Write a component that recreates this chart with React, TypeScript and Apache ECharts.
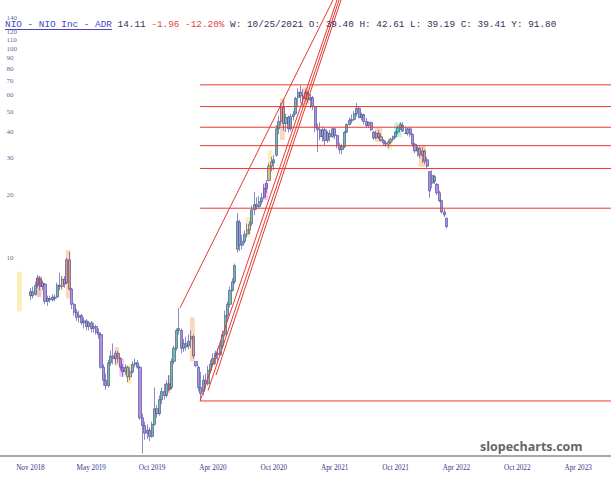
import React, { useEffect, useRef } from 'react';
import * as echarts from 'echarts';

// ---- axis / categories ----
const START_UTC = Date.UTC(2018, 7, 20); // first weekly slot on the x axis
const WEEK_COUNT = 251;
const FIRST_CANDLE = 12; // slot of the first candle (week of 2018-11-12)
const categories: string[] = Array.from({ length: WEEK_COUNT }, (_, i) =>
  new Date(START_UTC + i * 7 * 86400000).toISOString().slice(0, 10)
);

const tickLabels = ['Nov 2018', 'May 2019', 'Oct 2019', 'Apr 2020', 'Oct 2020', 'Apr 2021', 'Oct 2021', 'Apr 2022', 'Oct 2022', 'Apr 2023'];
const TICK_FIRST = 12;
const TICK_STEP = 25;

const yTickLabels = [10, 20, 30, 40, 50, 60, 70, 80, 90, 100, 110, 120, 140];
const Y_MIN = 1.129;
const Y_MAX = 171.4;

// ---- weekly candles: [open, close, low, high] from slot FIRST_CANDLE ----
const candles: number[][] = [
  [6.6, 6.9, 6.3, 7.2], [6.9, 6.6, 6.4, 7.3], [6.7, 7.4, 6.6, 7.7], [7.4, 8.0, 7.2, 8.3],
  [8.0, 7.3, 7.0, 8.2], [7.3, 7.6, 7.0, 7.8], [7.5, 6.2, 6.0, 7.6], [6.2, 6.4, 5.9, 6.6],
  [6.4, 6.3, 6.1, 6.6], [6.3, 6.5, 6.2, 6.7], [6.5, 6.4, 6.2, 6.7], [6.5, 7.4, 6.4, 7.6],
  [7.4, 7.3, 7.0, 8.5], [7.3, 7.9, 7.1, 8.2], [7.9, 7.5, 7.2, 8.2], [7.6, 9.8, 7.5, 10.0],
  [9.8, 7.1, 7.0, 10.7], [7.1, 6.0, 5.7, 7.2], [6.0, 5.5, 5.3, 6.1], [5.5, 5.2, 5.0, 5.7],
  [5.2, 5.3, 4.9, 5.6], [5.3, 4.9, 4.8, 5.4], [4.9, 5.0, 4.6, 5.2], [5.0, 4.7, 4.5, 5.1],
  [4.7, 4.9, 4.5, 5.0], [4.9, 4.6, 4.4, 5.0], [4.6, 4.7, 4.4, 4.9], [4.7, 4.4, 4.3, 4.8],
  [4.4, 4.3, 4.1, 4.6], [4.3, 3.0, 2.95, 4.4], [3.0, 2.6, 2.45, 3.1], [2.6, 2.45, 2.34, 2.8],
  [2.45, 3.15, 2.4, 3.25], [3.15, 3.4, 3.05, 3.6], [3.4, 3.3, 3.1, 3.9], [3.3, 3.5, 3.1, 3.6],
  [3.5, 3.3, 3.15, 3.6], [3.3, 3.0, 2.9, 3.35], [3.0, 2.85, 2.7, 3.1], [2.85, 3.0, 2.75, 3.1],
  [3.0, 2.7, 2.55, 3.05], [2.7, 2.85, 2.6, 3.0], [2.85, 3.1, 2.8, 3.2], [3.1, 3.15, 3.0, 3.3],
  [3.15, 3.0, 2.95, 3.25], [3.0, 1.72, 1.68, 3.05], [1.72, 1.58, 1.16, 1.8], [1.58, 1.45, 1.35, 1.65],
  [1.45, 1.5, 1.36, 1.6], [1.5, 1.4, 1.33, 1.55], [1.4, 1.6, 1.38, 1.65], [1.6, 1.9, 1.58, 2.4],
  [1.9, 1.8, 1.72, 1.98], [1.8, 2.1, 1.76, 2.2], [2.1, 2.3, 2.0, 2.4], [2.3, 2.2, 2.1, 2.5],
  [2.2, 2.5, 2.15, 2.6], [2.5, 2.35, 2.3, 2.75], [2.4, 3.2, 2.35, 3.3], [3.2, 3.7, 3.1, 3.8],
  [3.7, 4.5, 3.6, 4.6], [4.5, 4.6, 4.3, 5.77], [4.5, 3.7, 3.5, 4.6], [3.7, 3.9, 3.55, 4.1],
  [3.9, 3.75, 3.6, 4.2], [3.8, 4.0, 3.65, 4.3], [4.1, 4.2, 3.7, 4.5], [4.2, 3.4, 3.3, 4.3],
  [3.2, 3.05, 3.0, 3.2], [3.0, 2.4, 2.3, 3.05], [2.4, 2.25, 2.07, 2.85], [2.3, 2.6, 2.2, 2.75],
  [2.6, 2.5, 2.35, 2.8], [2.5, 2.9, 2.45, 3.05], [2.9, 3.1, 2.8, 3.26], [3.1, 3.3, 3.0, 3.5],
  [3.3, 3.5, 3.1, 3.6], [3.5, 3.45, 3.2, 3.7], [3.45, 3.8, 3.4, 4.0], [3.8, 4.3, 3.7, 4.5],
  [4.3, 5.3, 4.2, 5.6], [5.3, 6.0, 5.0, 6.2], [6.0, 7.0, 5.8, 7.3], [7.0, 7.7, 6.9, 8.0],
  [7.7, 9.2, 7.5, 9.4], [11.0, 15.0, 10.6, 16.4], [14.8, 11.5, 10.8, 15.2], [11.5, 12.0, 11.0, 12.9],
  [12.0, 13.0, 11.7, 13.5], [13.0, 13.6, 12.5, 14.6], [13.6, 14.5, 13.0, 15.0], [14.6, 17.0, 14.2, 17.8],
  [17.0, 18.0, 16.0, 20.7], [18.0, 17.6, 17.0, 19.5], [17.6, 18.6, 17.2, 19.8], [18.6, 19.4, 18.0, 20.5],
  [19.5, 21.5, 19.2, 22.5], [21.5, 22.8, 20.5, 23.6], [23.5, 27.5, 23.2, 28.5], [27.5, 28.8, 26.0, 30.5],
  [28.5, 29.5, 26.3, 31.0], [31.0, 41.5, 30.5, 43.3], [41.5, 45.0, 39.0, 48.0], [45.0, 53.0, 43.0, 55.0],
  [52.5, 44.0, 40.5, 57.0], [44.0, 47.0, 40.0, 49.0], [47.0, 41.5, 39.8, 48.0], [41.5, 47.5, 40.5, 49.0],
  [47.5, 48.7, 45.5, 50.5], [49.0, 58.0, 48.5, 59.0], [58.5, 62.0, 53.5, 64.8], [62.0, 59.5, 55.0, 67.0],
  [59.5, 58.0, 53.5, 64.0], [58.0, 62.0, 56.5, 64.0], [62.0, 57.0, 55.5, 63.0], [57.0, 58.5, 52.0, 61.0],
  [58.5, 53.0, 51.0, 59.5], [53.0, 42.0, 40.0, 53.5], [42.0, 41.0, 32.1, 44.0], [41.0, 38.0, 36.5, 44.6],
  [38.0, 41.0, 36.0, 42.5], [41.0, 36.5, 34.6, 42.0], [36.5, 39.5, 35.5, 40.5], [39.5, 38.0, 36.0, 41.0],
  [38.0, 41.5, 37.5, 42.3], [41.5, 38.5, 37.0, 42.0], [38.5, 34.5, 33.5, 39.0], [34.5, 33.0, 31.5, 35.5],
  [33.0, 34.0, 31.3, 35.0], [34.0, 40.0, 33.5, 40.5], [40.0, 43.5, 39.5, 44.0], [43.5, 45.5, 43.0, 47.0],
  [45.5, 46.0, 44.0, 48.5], [46.0, 49.0, 45.0, 50.5], [49.0, 52.0, 47.5, 55.2], [52.0, 47.0, 46.5, 53.0],
  [47.0, 48.5, 45.5, 49.5], [48.5, 45.0, 43.5, 49.0], [45.0, 43.0, 42.0, 46.7], [43.0, 44.5, 42.0, 45.0],
  [44.5, 41.0, 40.5, 45.0], [40.0, 37.5, 36.7, 40.5], [37.5, 39.5, 37.0, 40.5], [39.5, 38.0, 37.0, 41.0],
  [38.0, 36.5, 36.0, 39.5], [36.5, 35.5, 34.5, 37.0], [35.5, 35.0, 34.0, 36.5], [35.0, 35.8, 33.5, 36.7],
  [35.8, 37.0, 35.0, 37.5], [37.0, 38.0, 36.0, 38.5], [38.0, 40.0, 37.5, 40.5], [40.0, 42.0, 39.0, 43.0],
  [42.0, 43.5, 41.0, 44.6], [43.0, 40.5, 40.0, 44.6], [39.4, 39.41, 39.19, 42.61], [39.4, 41.5, 38.5, 42.0],
  [41.5, 39.0, 38.0, 42.5], [39.0, 35.0, 34.0, 39.5], [35.0, 32.5, 31.7, 35.5], [32.5, 33.5, 30.5, 34.6],
  [33.5, 31.0, 30.0, 34.0], [31.0, 32.5, 28.5, 34.0], [32.5, 29.0, 28.1, 33.0], [29.5, 27.5, 27.0, 30.4],
  [25.9, 20.9, 19.4, 26.0], [22.8, 24.8, 21.5, 26.3], [24.5, 23.2, 22.6, 25.0], [22.5, 20.5, 20.0, 22.8],
  [20.5, 18.8, 18.5, 21.0], [18.8, 16.6, 16.3, 19.0], [16.6, 16.07, 15.7, 17.2], [15.5, 14.11, 13.9, 15.6],
];

// ---- pattern highlight boxes: [first slot, last slot, low, high, kind] ----
const boxes: [number, number, number, number, string][] = [
  [7, 8, 5.55, 8.6, 'yellow'],
  [15, 16, 6.5, 8.2, 'red'],
  [25, 25, 7.0, 8.2, 'yellow'],
  [27, 28, 6.4, 10.9, 'orange'],
  [47, 48, 3.05, 3.75, 'orange'],
  [49, 50, 2.7, 3.3, 'magenta'],
  [52, 53, 2.5, 3.1, 'yellow'],
  [69, 69, 2.26, 2.75, 'red'],
  [78, 79, 3.2, 5.2, 'orange'],
  [101, 102, 12.6, 15.7, 'yellow'],
  [108, 109, 18.9, 22.8, 'magenta'],
  [110, 111, 25.5, 32.8, 'yellow'],
  [115, 116, 36.7, 58.0, 'orange'],
  [124, 126, 54.1, 65.6, 'orange'],
  [154, 156, 35.9, 41.9, 'orange'],
  [159, 160, 33.0, 37.5, 'yellow'],
  [162, 164, 37.9, 44.6, 'green'],
  [172, 174, 27.3, 34.6, 'orange'],
];

// ---- drawn levels and trend lines (slot, price) ----
const H_LINE_START = 81.7;
const hLevels = [67.3, 53.0, 42.2, 34.45, 26.8, 17.3, 2.07];
const trendLines: [number, number, number, number][] = [
  [73.45, 5.77, 136.3, Y_MAX],
  [81.7, 2.07, 137.95, Y_MAX],
  [84.95, 2.32, 138.78, Y_MAX],
  [88.24, 2.75, 139.6, Y_MAX],
];

// ---- header texts ----
const HEAD_NAME = 'NIO - NIO Inc - ADR';
const HEAD_LAST = '14.11';
const HEAD_CHANGE = '-1.96 -12.20%';
const HEAD_BAR = 'W: 10/25/2021 O: 39.40 H: 42.61 L: 39.19 C: 39.41 Y: 91.80';
const WATERMARK = 'slopecharts.com';

const BOX_FILL: Record<string, string> = {
  orange: 'rgba(244,168,108,0.45)',
  red: 'rgba(238,118,118,0.45)',
  yellow: 'rgba(250,222,120,0.5)',
  magenta: 'rgba(224,128,228,0.42)',
  green: 'rgba(110,228,176,0.45)',
};
const CANDLE_TINT: Record<string, string> = {
  orange: '#e39a6e',
  red: '#e0606a',
  yellow: '#dcc45e',
  magenta: '#d070d8',
  green: '#45d3a2',
};

const SERIF = '"Liberation Serif", "DejaVu Serif", serif';
const MONO = '"Courier New", "Liberation Mono", monospace';

export default function App() {
  const ref = useRef<HTMLDivElement>(null);

  useEffect(() => {
    if (!ref.current) return;
    const chart = echarts.init(ref.current, undefined, { renderer: 'svg' });

    const candleData = candles.map((c, k) => {
      const slot = k + FIRST_CANDLE;
      const box = boxes.find((b) => slot >= b[0] && slot <= b[1]);
      const item: any = { value: [slot, c[0], c[1], c[2], c[3]] };
      if (box) {
        item.itemStyle = { color: CANDLE_TINT[box[4]], color0: CANDLE_TINT[box[4]] };
      }
      return item;
    });

    const lineSeries: any[] = [];
    hLevels.forEach((v) => {
      lineSeries.push({
        type: 'line', xAxisIndex: 1, yAxisIndex: 0, silent: true, symbol: 'none', z: 4,
        data: [[H_LINE_START, v], [WEEK_COUNT - 0.5, v]],
        lineStyle: { color: '#e8392f', width: 1 },
      });
    });
    trendLines.forEach((t) => {
      lineSeries.push({
        type: 'line', xAxisIndex: 1, yAxisIndex: 0, silent: true, symbol: 'none', z: 4,
        data: [[t[0], t[1]], [t[2], t[3]]],
        lineStyle: { color: '#e8392f', width: 1 },
      });
    });

    const option: any = {
      animation: false,
      backgroundColor: '#ffffff',
      grid: { left: 0, right: 0, top: 0, bottom: 24, containLabel: false },
      title: {
        left: 5,
        top: 19,
        padding: 0,
        text: `{a|${HEAD_NAME}} {b|${HEAD_LAST}} {c|${HEAD_CHANGE}} {b|${HEAD_BAR}}`,
        textStyle: {
          fontFamily: MONO, fontSize: 9.4, fontWeight: 'normal', color: '#333355', lineHeight: 11,
          rich: {
            a: { fontFamily: MONO, fontSize: 9.4, color: '#4646c8' },
            b: { fontFamily: MONO, fontSize: 9.4, color: '#333355' },
            c: { fontFamily: MONO, fontSize: 9.4, color: '#e04848' },
          },
        },
      },
      xAxis: [
        {
          type: 'category',
          data: categories,
          boundaryGap: true,
          axisLine: { onZero: false, lineStyle: { color: '#a8a8a8', width: 2 } },
          axisTick: { show: false },
          splitLine: { show: false },
          axisLabel: {
            interval: (i: number) =>
              i >= TICK_FIRST && (i - TICK_FIRST) % TICK_STEP === 0 && (i - TICK_FIRST) / TICK_STEP < tickLabels.length,
            formatter: (_v: string, i: number) => tickLabels[(i - TICK_FIRST) / TICK_STEP] ?? '',
            color: '#35358a',
            fontFamily: SERIF,
            fontSize: 7.2,
            margin: 8,
          },
        },
        { type: 'value', min: -0.5, max: WEEK_COUNT - 0.5, show: false },
      ],
      yAxis: [
        { type: 'log', logBase: 10, min: Y_MIN, max: Y_MAX, show: false, splitLine: { show: false } },
      ],
      graphic: [
        {
          type: 'line', silent: true, z: 10,
          shape: { x1: 5, y1: 29.5, x2: 112, y2: 29.5 },
          style: { stroke: '#4646c8', lineWidth: 1 },
        },
        {
          type: 'text', silent: true, left: 480, top: 440, z: 10,
          style: { text: WATERMARK, fontFamily: '"Open Sans", sans-serif', fontWeight: 'bold', fontSize: 12.5, fill: '#666666' },
        },
      ],
      series: [
        {
          type: 'line', xAxisIndex: 1, yAxisIndex: 0, silent: true, symbol: 'none', z: 1,
          data: [],
          markArea: {
            silent: true,
            data: boxes.map((b) => [
              { coord: [b[0] - 0.5, b[2]], itemStyle: { color: BOX_FILL[b[4]] } },
              { coord: [b[1] + 0.5, b[3]] },
            ]),
          },
        },
        {
          type: 'candlestick',
          xAxisIndex: 0, yAxisIndex: 0, z: 3,
          encode: { x: 0, y: [1, 2, 3, 4] },
          barWidth: 2.6,
          data: candleData,
          itemStyle: {
            color: '#6cc391',
            color0: '#b48fdc',
            borderColor: '#3d3f99',
            borderColor0: '#3d3f99',
            borderWidth: 0.6,
          },
        },
        ...lineSeries,
        {
          type: 'scatter', xAxisIndex: 1, yAxisIndex: 0, silent: true, z: 5,
          clip: false,
          symbolSize: 1,
          itemStyle: { color: 'rgba(0,0,0,0)' },
          data: yTickLabels.map((v) => [-0.5, v]),
          label: {
            show: true, position: 'right', distance: 6,
            formatter: (p: any) => String(p.value[1]),
            fontFamily: SERIF, fontSize: 7, color: '#35357a',
          },
        },
      ],
    };

    chart.setOption(option);
    return () => chart.dispose();
  }, []);

  return (
    <div
      ref={ref}
      style={{ position: 'fixed', left: 0, top: 0, width: 611, height: 480, background: '#fff' }}
    />
  );
}
